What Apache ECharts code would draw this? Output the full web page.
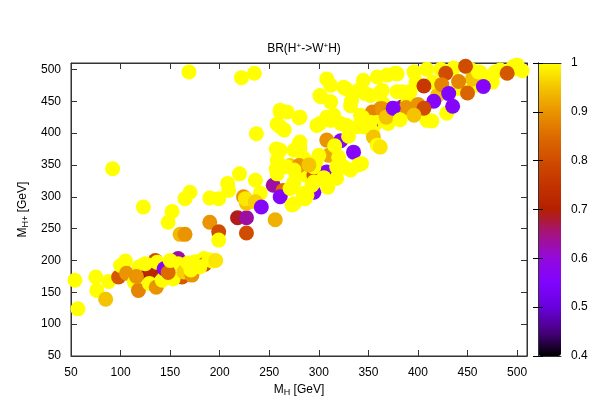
<!DOCTYPE html>
<html><head><meta charset="utf-8">
<script src="https://cdn.jsdelivr.net/npm/echarts@6/dist/echarts.min.js"></script>
<style>html,body{margin:0;padding:0;background:#fff}#c{width:598px;height:419px}</style>
</head><body><div id="c"></div>
<script>
// M_H [GeV]  (rows of 10, aligned with mHp and br)
const mH = [
 54, 57, 75, 76, 85, 88, 98,100,105,106,
114,118,119,128,131,129,136,135,137,142,
144,158,158,162,153,164,172,171,175,184,
185,193,148,125,116,168,180,189,196,150,
148,152,123, 92,160,165,190,199,199,218,
227,227,256,165,170,190,199,208,209,220,
224,227,226,236,241,236,242,254,237,169,
222,235,257,258,257,258,271,268,264,261,
271,275,284,287,295,295,293,281,285,280,
297,308,309,318,310,335,332,318,308,322,
308,312,327,301,312,261,281,261,298,308,
332,345,359,369,379,347,362,365,342,362,
374,384,354,344,359,352,370,382,354,355,
359,362,301,322,315,281,261,339,275,258,
265,261,280,280,340,320,343,325,295,275,
275,295,286,273,288,
302,333,352,340,364,384,312,328,268,352,
409,429,449,470,483,496,463,453,436,423,
409,458,364,390,400,420,440,455,475,500,
415,398,388,368,345,330,316,300,290,305,
325,377,396,461,478,495,505,
428,406,424,441,450,466,431,416,435,406,
414,396,375,382,392,379,490,448];
// M_H+ [GeV]
const mHp = [
169,124,174,153,139,167,174,192,199,180,
166,153,190,179,184,164,158,200,197,169,
187,203,195,174,171,182,177,185,198,203,
194,199,181,195,175,196,190,201,200,200,
260,277,284,344,241,241,260,245,232,267,
267,243,264,297,307,298,297,321,310,336,
300,290,297,326,306,292,284,318,399,496,
487,494,375,357,344,336,349,347,310,300,
313,289,305,334,334,307,318,376,360,349,
354,339,315,329,365,370,342,347,389,388,
485,475,470,459,449,436,425,410,412,425,
443,483,488,491,493,462,464,446,428,438,
438,441,433,425,417,412,415,423,402,394,
381,378,415,415,428,386,373,410,373,414,
405,433,424,383,350,362,352,347,347,342,
323,323,297,287,302,
457,451,459,467,467,465,420,412,433,417,
420,431,465,487,499,504,495,500,502,500,
500,475,438,450,445,460,470,485,480,507,
480,480,440,425,410,395,380,365,350,330,
472,494,496,496,496,500,498,
494,474,476,481,463,473,462,450,442,439,
419,428,439,421,465,465,494,505];
// BR(H+ -> W+ H)
const br = [
1,1,1,1,0.95,1,0.82,1,1,0.9,
1,0.88,1,0.69,0.72,1,0.9,0.8,1,1,
0.56,0.63,1,0.82,1,0.96,0.9,1,1,1,
0.8,1,0.85,1,0.9,1,1,1,0.98,1,
1,1,1,1,0.94,0.9,0.9,0.8,1,0.69,
0.63,0.8,0.93,1,1,1,1,1,1,1,
0.9,0.95,0.98,1,1,0.96,0.56,0.63,1,1,
1,1,1,1,1,1,0.96,1,0.85,0.56,
1,1,1,1,0.82,0.56,1,1,1,0.9,
1,0.56,1,1,0.92,0.56,1,1,0.9,0.56,
1,1,1,1,1,1,1,1,1,1,
1,1,1,1,1,1,1,1,1,0.9,
0.56,0.63,0.88,1,1,0.56,1,1,1,0.95,
1,0.98,1,1,1,1,1,1,1,1,
1,1,1,1,1,1,1,1,1,1,
1,1,1,1,1,
1,1,1,1,1,1,1,1,1,1,
1,1,1,1,1,1,1,1,1,1,
1,1,0.9,1,0.9,0.95,1,0.95,1,1,
1,1,0.9,0.95,1,1,1,1,0.95,1,
1,1,1,1,1,1,1,
0.8,0.76,0.88,0.88,0.84,0.56,0.55,0.56,0.56,0.8,
1,0.95,0.56,1,1,1,0.82,0.8];
const xTicks = [50,100,150,200,250,300,350,400,450,500];
const yTicks = [50,100,150,200,250,300,350,400,450,500];
const cbTicks = [0.4,0.5,0.6,0.7,0.8,0.9,1];

const points = mH.map((x,i)=>[x, mHp[i], br[i]]);
const palette = ['#000000','#4a0080','#6801dd','#8004ff','#9309dd','#a51280','#b42000','#c33300','#d04c00','#dd6b00','#e99400','#f4c400','#ffff00'];
const F = 'Liberation Sans, Arial, sans-serif';
const axCol = '#333';
const lab = {color:'#000', fontFamily:F, fontSize:12};

const chart = echarts.init(document.getElementById('c'), null, {renderer:'canvas'});
chart.setOption({
  animation:false,
  backgroundColor:'#fff',
  title:{
    text:'BR(H{sup|+}->W{sup|+}H)',
    left:299, top:37, textAlign:'center',
    textStyle:{fontFamily:F, fontSize:12, fontWeight:'normal', color:'#000',
      rich:{sup:{fontFamily:F, fontSize:8, verticalAlign:'top', padding:[0,0,6,0], color:'#000'}}}
  },
  grid:[
    {left:71, top:63, width:456, height:293, show:true, borderColor:axCol, borderWidth:1},
    {left:538, top:63, width:23, height:293, show:false}
  ],
  visualMap:{
    type:'continuous', min:0.4, max:1, dimension:2, seriesIndex:0,
    left:538, top:63, itemWidth:23, itemHeight:293, padding:0,
    calculable:false, hoverLink:false, text:null,
    inRange:{color:palette}
  },
  xAxis:[
    {gridIndex:0, type:'value', min:50, max:510, interval:50, position:'bottom',
     axisLine:{show:true, lineStyle:{color:axCol}},
     axisTick:{inside:true, length:6, lineStyle:{color:axCol}},
     axisLabel:{...lab, margin:11, showMaxLabel:false, formatter:v=>xTicks.includes(v)?String(v):''},
     splitLine:{show:false},
     name:'{m|M}{s|H}{m| [GeV]}', nameLocation:'middle', nameGap:25,
     nameTextStyle:{...lab, rich:{m:{...lab}, s:{fontFamily:F, fontSize:9, color:'#000', padding:[6,0,0,0]}}}},
    {gridIndex:0, type:'value', min:50, max:510, interval:50, position:'top',
     axisLine:{show:true, lineStyle:{color:axCol}},
     axisTick:{inside:true, length:6, lineStyle:{color:axCol}},
     axisLabel:{show:false}, splitLine:{show:false}},
    {gridIndex:1, type:'value', min:0, max:1, position:'bottom', z:10,
     axisLine:{show:true, lineStyle:{color:axCol}}, axisTick:{show:false}, axisLabel:{show:false}, splitLine:{show:false}},
    {gridIndex:1, type:'value', min:0, max:1, position:'top', z:10,
     axisLine:{show:true, lineStyle:{color:axCol}}, axisTick:{show:false}, axisLabel:{show:false}, splitLine:{show:false}}
  ],
  yAxis:[
    {gridIndex:0, type:'value', min:50, max:510, interval:50, position:'left',
     axisLine:{show:true, lineStyle:{color:axCol}},
     axisTick:{inside:true, length:6, lineStyle:{color:axCol}},
     axisLabel:{...lab, margin:10, showMaxLabel:false, formatter:v=>yTicks.includes(v)?String(v):''},
     splitLine:{show:false},
     name:'{m|M}{s|H+}{m| [GeV]}', nameLocation:'middle', nameGap:34, nameRotate:90,
     nameTextStyle:{...lab, rich:{m:{...lab}, s:{fontFamily:F, fontSize:9, color:'#000', padding:[6,0,0,0]}}}},
    {gridIndex:0, type:'value', min:50, max:510, interval:50, position:'right',
     axisLine:{show:true, lineStyle:{color:axCol}},
     axisTick:{inside:true, length:6, lineStyle:{color:axCol}},
     axisLabel:{show:false}, splitLine:{show:false}},
    {gridIndex:1, type:'value', min:0.4, max:1, interval:0.1, position:'right', z:10,
     axisLine:{show:true, lineStyle:{color:axCol}},
     axisTick:{inside:true, length:5, lineStyle:{color:'#000'}},
     axisLabel:{...lab, margin:10, formatter:v=>{const r=Math.round(v*10)/10; return cbTicks.includes(r)?String(r):'';}},
     splitLine:{show:false}},
    {gridIndex:1, type:'value', min:0.4, max:1, interval:0.1, position:'left', z:10,
     axisLine:{show:true, lineStyle:{color:axCol}},
     axisTick:{inside:true, length:5, lineStyle:{color:'#000'}},
     axisLabel:{show:false}, splitLine:{show:false}}
  ],
  series:[{
    type:'scatter', xAxisIndex:0, yAxisIndex:0, symbol:'circle', symbolSize:15,
    data:points, itemStyle:{opacity:1}, emphasis:{disabled:true}
  }]
});
</script></body></html>
